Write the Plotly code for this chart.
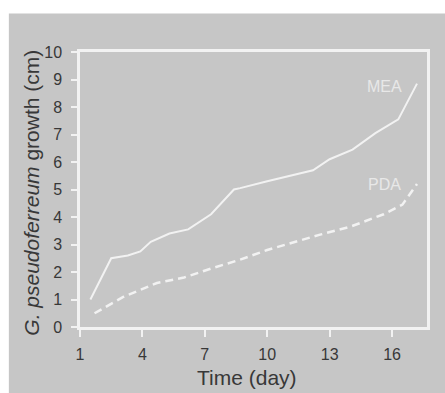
import plotly.graph_objects as go

# Data
mea_days = [1.5, 2.5, 3.3, 3.9, 4.4, 5.3, 6.2, 7.3, 8.4, 8.7, 10.0, 11.1, 12.2, 13.0, 14.1, 15.2, 16.3, 17.2]
mea_growth = [1.0, 2.5, 2.6, 2.75, 3.1, 3.4, 3.55, 4.1, 5.0, 5.05, 5.3, 5.5, 5.7, 6.1, 6.45, 7.05, 7.55, 8.85]

pda_days = [1.7, 3.1, 4.7, 6.0, 7.4, 8.7, 10.0, 11.1, 12.5, 14.0, 15.6, 16.5, 17.2]
pda_growth = [0.5, 1.1, 1.6, 1.8, 2.15, 2.45, 2.8, 3.05, 3.35, 3.65, 4.1, 4.45, 5.2]

x_ticks = [1, 4, 7, 10, 13, 16]
y_ticks = list(range(0, 11))

series_labels = ["MEA", "PDA"]

BG = "#c6c6c6"
LINE = "#f2f2f2"
TXT = "#383838"
FONT = "Liberation Sans, Arial, sans-serif"

fig = go.Figure()
fig.add_trace(go.Scatter(x=mea_days, y=mea_growth, mode="lines",
                         line=dict(color=LINE, width=2), showlegend=False))
fig.add_trace(go.Scatter(x=pda_days, y=pda_growth, mode="lines",
                         line=dict(color=LINE, width=2.5, dash="8px,5px"), showlegend=False))

# gray panel behind the whole figure (except thin white margin)
fig.add_shape(type="rect", xref="paper", yref="paper",
              x0=-0.205, x1=1.06, y0=-0.25, y1=1.14,
              fillcolor=BG, line=dict(width=0), layer="below")

fig.add_annotation(x=15.66, y=8.76, text=series_labels[0], showarrow=False,
                   font=dict(family=FONT, size=16, color="#e8e8e8"))
fig.add_annotation(x=15.62, y=5.2, text=series_labels[1], showarrow=False,
                   font=dict(family=FONT, size=16, color="#e8e8e8"))

fig.add_annotation(xref="paper", yref="paper", x=0.481, y=-0.182,
                   text="Time (day)", showarrow=False, xanchor="center", yanchor="middle",
                   font=dict(family=FONT, size=21, color=TXT))
fig.add_annotation(xref="paper", yref="paper", x=-0.14, y=0.49,
                   text="<i>G. pseudoferreum</i> growth (cm)", showarrow=False,
                   textangle=-90, xanchor="center", yanchor="middle",
                   font=dict(family=FONT, size=21, color=TXT))

fig.update_xaxes(range=[1, 17.68], tickvals=x_ticks, showgrid=False, zeroline=False,
                 showline=True, mirror=True, linecolor=LINE, linewidth=2.5,
                 ticks="outside", ticklen=7, tickwidth=1.5, tickcolor=LINE,
                 ticklabelstandoff=4,
                 tickfont=dict(family=FONT, size=16, color=TXT))
fig.update_yaxes(range=[0, 10], tickvals=y_ticks, showgrid=False, zeroline=False,
                 showline=True, mirror=True, linecolor=LINE, linewidth=2.5,
                 ticks="outside", ticklen=6, tickwidth=1.5, tickcolor=LINE,
                 ticklabelstandoff=6,
                 tickfont=dict(family=FONT, size=16, color=TXT))

fig.update_layout(width=445, height=393,
                  margin=dict(l=80, r=18, t=52, b=66),
                  paper_bgcolor="white", plot_bgcolor=BG)

fig.write_html("out.html", config={"displayModeBar": False},
               post_script="document.body.style.margin='0';document.body.style.overflow='hidden';")
